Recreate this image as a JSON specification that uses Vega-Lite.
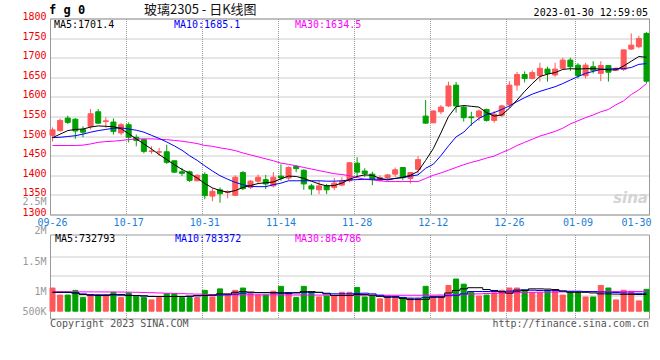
{
"$schema":"https://vega.github.io/schema/vega-lite/v6.json",
"autosize":{"type":"pad"},
"padding":{"left":21,"top":2.5,"right":0,"bottom":0},
"background":"white",
"spacing":20,
"bounds":"flush",
"config":{
 "view":{"stroke":"#999999","strokeWidth":1},
 "axis":{"domain":false,"ticks":false,"labelFont":"DejaVu Sans Mono","labelFontSize":10,"gridColor":"#999999","gridDash":[1,1],"gridWidth":1},
 "text":{"font":"DejaVu Sans Mono","fontSize":10}
},
"datasets":{"k":[
{"d":"09-26","o":1502,"h":1522,"l":1486,"c":1516,"v":1016000,"m5":1496,"m10":1496,"m30":1476,"vm5":833000,"vm10":820000,"vm30":852000},
{"d":"09-27","o":1514,"h":1545,"l":1511,"c":1540,"v":708000,"m5":1505,"m10":1497,"m30":1476,"vm5":833000,"vm10":820000,"vm30":851000},
{"d":"09-28","o":1546,"h":1552,"l":1531,"c":1535,"v":708000,"m5":1514,"m10":1499,"m30":1476,"vm5":833000,"vm10":820000,"vm30":850000},
{"d":"09-29","o":1543,"h":1546,"l":1493,"c":1513,"v":913000,"m5":1517,"m10":1501,"m30":1476,"vm5":800000,"vm10":800000,"vm30":849000},
{"d":"09-30","o":1517,"h":1525,"l":1497,"c":1510,"v":596000,"m5":1518,"m10":1505,"m30":1477,"vm5":730000,"vm10":760000,"vm30":848000},
{"d":"10-10","o":1525,"h":1569,"l":1517,"c":1557,"v":708000,"m5":1523,"m10":1510,"m30":1480,"vm5":700000,"vm10":730000,"vm30":847000},
{"d":"10-11","o":1562,"h":1569,"l":1531,"c":1533,"v":708000,"m5":1526,"m10":1514,"m30":1484,"vm5":690000,"vm10":720000,"vm30":846000},
{"d":"10-12","o":1537,"h":1548,"l":1521,"c":1539,"v":708000,"m5":1525,"m10":1517,"m30":1486,"vm5":690000,"vm10":719000,"vm30":845000},
{"d":"10-13","o":1536,"h":1545,"l":1504,"c":1512,"v":829000,"m5":1524,"m10":1520,"m30":1487,"vm5":730000,"vm10":710000,"vm30":843000},
{"d":"10-14","o":1508,"h":1534,"l":1502,"c":1529,"v":596000,"m5":1519,"m10":1521,"m30":1489,"vm5":730000,"vm10":700000,"vm30":840000},
{"d":"10-17","o":1529,"h":1535,"l":1484,"c":1497,"v":802000,"m5":1506,"m10":1518,"m30":1491,"vm5":700000,"vm10":690000,"vm30":836000},
{"d":"10-18","o":1497,"h":1504,"l":1474,"c":1489,"v":662000,"m5":1493,"m10":1515,"m30":1493,"vm5":690000,"vm10":689000,"vm30":830000},
{"d":"10-19","o":1491,"h":1493,"l":1456,"c":1461,"v":596000,"m5":1480,"m10":1510,"m30":1493,"vm5":670000,"vm10":670000,"vm30":822000},
{"d":"10-20","o":1461,"h":1474,"l":1455,"c":1462,"v":494000,"m5":1467,"m10":1502,"m30":1493,"vm5":645000,"vm10":650000,"vm30":812000},
{"d":"10-21","o":1459,"h":1470,"l":1450,"c":1460,"v":596000,"m5":1453,"m10":1494,"m30":1492,"vm5":645000,"vm10":645000,"vm30":800000},
{"d":"10-24","o":1460,"h":1478,"l":1429,"c":1433,"v":764000,"m5":1440,"m10":1485,"m30":1491,"vm5":645000,"vm10":645000,"vm30":790000},
{"d":"10-25","o":1437,"h":1438,"l":1406,"c":1408,"v":764000,"m5":1427,"m10":1475,"m30":1489,"vm5":645000,"vm10":645000,"vm30":780000},
{"d":"10-26","o":1409,"h":1419,"l":1398,"c":1405,"v":596000,"m5":1415,"m10":1464,"m30":1487,"vm5":645000,"vm10":645000,"vm30":770000},
{"d":"10-27","o":1409,"h":1412,"l":1383,"c":1387,"v":596000,"m5":1405,"m10":1450,"m30":1484,"vm5":660000,"vm10":650000,"vm30":760000},
{"d":"10-28","o":1386,"h":1402,"l":1385,"c":1400,"v":596000,"m5":1393,"m10":1438,"m30":1481,"vm5":690000,"vm10":670000,"vm30":750000},
{"d":"10-31","o":1402,"h":1408,"l":1339,"c":1348,"v":913000,"m5":1379,"m10":1424,"m30":1476,"vm5":690000,"vm10":689000,"vm30":740000},
{"d":"11-01","o":1347,"h":1367,"l":1334,"c":1359,"v":624000,"m5":1368,"m10":1411,"m30":1474,"vm5":700000,"vm10":700000,"vm30":730000},
{"d":"11-02","o":1363,"h":1369,"l":1330,"c":1353,"v":979000,"m5":1361,"m10":1399,"m30":1470,"vm5":760000,"vm10":710000,"vm30":722000},
{"d":"11-03","o":1356,"h":1362,"l":1341,"c":1358,"v":708000,"m5":1357,"m10":1390,"m30":1467,"vm5":760000,"vm10":719000,"vm30":720000},
{"d":"11-04","o":1349,"h":1400,"l":1347,"c":1395,"v":913000,"m5":1361,"m10":1382,"m30":1463,"vm5":830000,"vm10":750000,"vm30":718000},
{"d":"11-07","o":1407,"h":1411,"l":1362,"c":1366,"v":1016000,"m5":1369,"m10":1376,"m30":1457,"vm5":860000,"vm10":790000,"vm30":718000},
{"d":"11-08","o":1369,"h":1388,"l":1365,"c":1385,"v":764000,"m5":1374,"m10":1372,"m30":1452,"vm5":840000,"vm10":810000,"vm30":720000},
{"d":"11-09","o":1385,"h":1402,"l":1380,"c":1395,"v":708000,"m5":1379,"m10":1371,"m30":1447,"vm5":810000,"vm10":820000,"vm30":720000},
{"d":"11-10","o":1389,"h":1401,"l":1365,"c":1378,"v":708000,"m5":1381,"m10":1371,"m30":1442,"vm5":810000,"vm10":820000,"vm30":720000},
{"d":"11-11","o":1373,"h":1408,"l":1369,"c":1395,"v":876000,"m5":1383,"m10":1376,"m30":1437,"vm5":800000,"vm10":820000,"vm30":720000},
{"d":"11-14","o":1398,"h":1428,"l":1386,"c":1393,"v":1090000,"m5":1391,"m10":1380,"m30":1431,"vm5":790000,"vm10":820000,"vm30":718000},
{"d":"11-15","o":1393,"h":1423,"l":1388,"c":1420,"v":764000,"m5":1398,"m10":1386,"m30":1428,"vm5":780000,"vm10":820000,"vm30":716000},
{"d":"11-16","o":1423,"h":1426,"l":1408,"c":1417,"v":596000,"m5":1397,"m10":1386,"m30":1424,"vm5":800000,"vm10":820000,"vm30":714000},
{"d":"11-17","o":1413,"h":1415,"l":1363,"c":1378,"v":1090000,"m5":1392,"m10":1386,"m30":1420,"vm5":860000,"vm10":820000,"vm30":712000},
{"d":"11-18","o":1373,"h":1378,"l":1350,"c":1365,"v":829000,"m5":1385,"m10":1386,"m30":1416,"vm5":860000,"vm10":820000,"vm30":710000},
{"d":"11-21","o":1363,"h":1386,"l":1352,"c":1373,"v":624000,"m5":1378,"m10":1386,"m30":1412,"vm5":830000,"vm10":820000,"vm30":708000},
{"d":"11-22","o":1373,"h":1378,"l":1352,"c":1363,"v":662000,"m5":1373,"m10":1385,"m30":1408,"vm5":760000,"vm10":790000,"vm30":706000},
{"d":"11-23","o":1369,"h":1393,"l":1362,"c":1380,"v":662000,"m5":1374,"m10":1385,"m30":1404,"vm5":690000,"vm10":763000,"vm30":704000},
{"d":"11-24","o":1375,"h":1395,"l":1372,"c":1385,"v":829000,"m5":1380,"m10":1386,"m30":1402,"vm5":690000,"vm10":763000,"vm30":702000},
{"d":"11-25","o":1386,"h":1434,"l":1382,"c":1432,"v":829000,"m5":1390,"m10":1388,"m30":1399,"vm5":690000,"vm10":763000,"vm30":700000},
{"d":"11-28","o":1431,"h":1446,"l":1395,"c":1408,"v":1044000,"m5":1397,"m10":1389,"m30":1394,"vm5":730000,"vm10":780000,"vm30":700000},
{"d":"11-29","o":1411,"h":1418,"l":1396,"c":1404,"v":624000,"m5":1401,"m10":1390,"m30":1390,"vm5":730000,"vm10":790000,"vm30":700000},
{"d":"11-30","o":1403,"h":1409,"l":1375,"c":1390,"v":662000,"m5":1400,"m10":1390,"m30":1388,"vm5":700000,"vm10":760000,"vm30":700000},
{"d":"12-01","o":1387,"h":1400,"l":1384,"c":1394,"v":541000,"m5":1392,"m10":1390,"m30":1386,"vm5":650000,"vm10":700000,"vm30":700000},
{"d":"12-02","o":1394,"h":1403,"l":1390,"c":1401,"v":624000,"m5":1388,"m10":1390,"m30":1384,"vm5":610000,"vm10":650000,"vm30":700000},
{"d":"12-05","o":1403,"h":1420,"l":1396,"c":1414,"v":569000,"m5":1392,"m10":1392,"m30":1384,"vm5":610000,"vm10":645000,"vm30":700000},
{"d":"12-06","o":1420,"h":1421,"l":1387,"c":1394,"v":569000,"m5":1395,"m10":1394,"m30":1384,"vm5":560000,"vm10":600000,"vm30":700000},
{"d":"12-07","o":1392,"h":1407,"l":1379,"c":1407,"v":569000,"m5":1400,"m10":1398,"m30":1384,"vm5":510000,"vm10":570000,"vm30":700000},
{"d":"12-08","o":1415,"h":1449,"l":1403,"c":1440,"v":569000,"m5":1410,"m10":1401,"m30":1384,"vm5":510000,"vm10":570000,"vm30":700000},
{"d":"12-09","o":1551,"h":1592,"l":1532,"c":1533,"v":1090000,"m5":1438,"m10":1418,"m30":1392,"vm5":520000,"vm10":600000,"vm30":702000},
{"d":"12-12","o":1534,"h":1566,"l":1533,"c":1564,"v":622000,"m5":1468,"m10":1428,"m30":1400,"vm5":610000,"vm10":640000,"vm30":705000},
{"d":"12-13","o":1562,"h":1579,"l":1556,"c":1574,"v":622000,"m5":1508,"m10":1450,"m30":1406,"vm5":610000,"vm10":650000,"vm30":710000},
{"d":"12-14","o":1577,"h":1639,"l":1574,"c":1628,"v":1130000,"m5":1550,"m10":1475,"m30":1413,"vm5":800000,"vm10":680000,"vm30":720000},
{"d":"12-15","o":1630,"h":1638,"l":1560,"c":1577,"v":1412000,"m5":1575,"m10":1498,"m30":1420,"vm5":910000,"vm10":700000,"vm30":730000},
{"d":"12-16","o":1574,"h":1579,"l":1537,"c":1547,"v":1186000,"m5":1578,"m10":1510,"m30":1427,"vm5":980000,"vm10":760000,"vm30":740000},
{"d":"12-19","o":1549,"h":1562,"l":1526,"c":1547,"v":833000,"m5":1576,"m10":1530,"m30":1433,"vm5":1030000,"vm10":864000,"vm30":750000},
{"d":"12-20","o":1549,"h":1568,"l":1539,"c":1564,"v":664000,"m5":1574,"m10":1545,"m30":1438,"vm5":1030000,"vm10":864000,"vm30":760000},
{"d":"12-21","o":1568,"h":1570,"l":1537,"c":1540,"v":706000,"m5":1560,"m10":1555,"m30":1444,"vm5":950000,"vm10":864000,"vm30":775000},
{"d":"12-22","o":1540,"h":1564,"l":1534,"c":1556,"v":805000,"m5":1551,"m10":1560,"m30":1449,"vm5":910000,"vm10":864000,"vm30":785000},
{"d":"12-23","o":1553,"h":1580,"l":1548,"c":1577,"v":918000,"m5":1554,"m10":1568,"m30":1458,"vm5":850000,"vm10":864000,"vm30":795000},
{"d":"12-26","o":1580,"h":1640,"l":1570,"c":1630,"v":1017000,"m5":1571,"m10":1577,"m30":1466,"vm5":790000,"vm10":880000,"vm30":805000},
{"d":"12-27","o":1630,"h":1664,"l":1616,"c":1657,"v":1017000,"m5":1592,"m10":1588,"m30":1476,"vm5":880000,"vm10":930000,"vm30":815000},
{"d":"12-28","o":1657,"h":1665,"l":1637,"c":1647,"v":918000,"m5":1614,"m10":1598,"m30":1484,"vm5":910000,"vm10":939000,"vm30":822000},
{"d":"12-29","o":1647,"h":1668,"l":1645,"c":1662,"v":805000,"m5":1634,"m10":1607,"m30":1492,"vm5":980000,"vm10":920000,"vm30":828000},
{"d":"12-30","o":1654,"h":1687,"l":1639,"c":1673,"v":805000,"m5":1652,"m10":1614,"m30":1500,"vm5":980000,"vm10":908000,"vm30":833000},
{"d":"01-03","o":1671,"h":1677,"l":1639,"c":1660,"v":918000,"m5":1658,"m10":1620,"m30":1506,"vm5":970000,"vm10":908000,"vm30":838000},
{"d":"01-04","o":1656,"h":1687,"l":1651,"c":1671,"v":946000,"m5":1662,"m10":1626,"m30":1512,"vm5":950000,"vm10":908000,"vm30":842000},
{"d":"01-05","o":1673,"h":1700,"l":1671,"c":1694,"v":706000,"m5":1670,"m10":1634,"m30":1520,"vm5":880000,"vm10":890000,"vm30":846000},
{"d":"01-06","o":1694,"h":1700,"l":1666,"c":1677,"v":833000,"m5":1672,"m10":1643,"m30":1531,"vm5":830000,"vm10":877000,"vm30":850000},
{"d":"01-09","o":1681,"h":1686,"l":1647,"c":1654,"v":833000,"m5":1671,"m10":1652,"m30":1539,"vm5":830000,"vm10":877000,"vm30":852000},
{"d":"01-10","o":1654,"h":1687,"l":1647,"c":1681,"v":622000,"m5":1672,"m10":1660,"m30":1547,"vm5":830000,"vm10":864000,"vm30":854000},
{"d":"01-11","o":1677,"h":1691,"l":1660,"c":1668,"v":622000,"m5":1672,"m10":1665,"m30":1554,"vm5":800000,"vm10":860000,"vm30":856000},
{"d":"01-12","o":1660,"h":1691,"l":1640,"c":1680,"v":1130000,"m5":1671,"m10":1670,"m30":1562,"vm5":760000,"vm10":840000,"vm30":858000},
{"d":"01-13","o":1680,"h":1680,"l":1639,"c":1663,"v":1017000,"m5":1669,"m10":1671,"m30":1568,"vm5":760000,"vm10":833000,"vm30":860000},
{"d":"01-16","o":1668,"h":1675,"l":1666,"c":1673,"v":494000,"m5":1669,"m10":1672,"m30":1580,"vm5":750000,"vm10":820000,"vm30":861000},
{"d":"01-17","o":1670,"h":1720,"l":1666,"c":1720,"v":918000,"m5":1679,"m10":1672,"m30":1590,"vm5":740000,"vm10":800000,"vm30":862000},
{"d":"01-18","o":1722,"h":1762,"l":1720,"c":1732,"v":875000,"m5":1691,"m10":1675,"m30":1606,"vm5":735000,"vm10":790000,"vm30":863000},
{"d":"01-19","o":1728,"h":1756,"l":1724,"c":1749,"v":452000,"m5":1703,"m10":1683,"m30":1618,"vm5":733000,"vm10":785000,"vm30":864000},
{"d":"01-30","o":1762,"h":1765,"l":1634,"c":1640,"v":960000,"m5":1701,"m10":1685,"m30":1634,"vm5":733000,"vm10":783000,"vm30":865000}
]},
"vconcat":[
{
 "width":599,"height":196,
 "data":{"name":"k"},
 "resolve":{"axis":{"x":"independent","y":"independent"}},
 "layer":[
  {"mark":{"type":"rule","strokeWidth":1},
   "encoding":{
    "x":{"field":"d","type":"ordinal","sort":null,"title":null,
     "scale":{"domain":["09-26","09-27","09-28","09-29","09-30","10-10","10-11","10-12","10-13","10-14","10-17","10-18","10-19","10-20","10-21","10-24","10-25","10-26","10-27","10-28","10-31","11-01","11-02","11-03","11-04","11-07","11-08","11-09","11-10","11-11","11-14","11-15","11-16","11-17","11-18","11-21","11-22","11-23","11-24","11-25","11-28","11-29","11-30","12-01","12-02","12-05","12-06","12-07","12-08","12-09","12-12","12-13","12-14","12-15","12-16","12-19","12-20","12-21","12-22","12-23","12-26","12-27","12-28","12-29","12-30","01-03","01-04","01-05","01-06","01-09","01-10","01-11","01-12","01-13","01-16","01-17","01-18","01-19","01-30"],"paddingInner":0.34,"paddingOuter":0},
     "axis":{"values":["09-26","10-17","10-31","11-14","11-28","12-12","12-26","01-09","01-30"],"bandPosition":0,"grid":true,"labelAngle":0,"labelColor":"#1a80d6","labelPadding":3,
      "labelAlign":{"condition":{"test":"datum.value == '01-30'","value":"right"},"value":"center"},
      "labelOffset":{"condition":{"test":"datum.value == '01-30'","value":5},"value":0},
      "gridOpacity":{"condition":{"test":"datum.value == '01-30'","value":0},"value":1}}},
    "y":{"field":"l","type":"quantitative","title":null,
     "scale":{"domain":[1300,1800],"nice":false,"zero":false},
     "axis":{"values":[1300,1350,1400,1450,1500,1550,1600,1650,1700,1750,1800],"format":"d","labelColor":"#ee0000","labelPadding":4,"labelOffset":-2,"grid":true,"labelOverlap":false}},
    "y2":{"field":"h"},
    "color":{"condition":{"test":"datum.c >= datum.o","value":"#ff5858"},"value":"#00a000"}
   }},
  {"mark":{"type":"bar","strokeWidth":1},
   "encoding":{
    "x":{"field":"d","type":"ordinal","sort":null,"title":null,"axis":null},
    "y":{"field":"o","type":"quantitative","title":null,"axis":null},
    "y2":{"field":"c"},
    "color":{"condition":{"test":"datum.c >= datum.o","value":"#ff5858"},"value":"#00a000"},
    "stroke":{"condition":{"test":"datum.c >= datum.o","value":"#ff5858"},"value":"#00a000"}
   }},
  {"mark":{"type":"line","color":"#ff00ff","strokeWidth":1},
   "encoding":{"x":{"field":"d","type":"ordinal","sort":null,"title":null,"axis":null},"y":{"field":"m30","type":"quantitative","title":null,"axis":null}}},
  {"mark":{"type":"line","color":"#0000ff","strokeWidth":1},
   "encoding":{"x":{"field":"d","type":"ordinal","sort":null,"title":null,"axis":null},"y":{"field":"m10","type":"quantitative","title":null,"axis":null}}},
  {"mark":{"type":"line","color":"#000000","strokeWidth":1},
   "encoding":{"x":{"field":"d","type":"ordinal","sort":null,"title":null,"axis":null},"y":{"field":"m5","type":"quantitative","title":null,"axis":null}}},
  {"data":{"values":[{}]},
   "mark":{"type":"text","text":"f g 0","align":"left","baseline":"middle","dx":-1,"dy":-9,"fontWeight":"bold","fontSize":12,"color":"#000000"},
   "encoding":{"x":{"datum":"09-26","type":"ordinal","bandPosition":0,"axis":null},"y":{"datum":1800,"type":"quantitative","axis":null}}},
  {"data":{"values":[{}]},
   "mark":{"type":"text","text":"玻璃2305 - 日K线图","align":"center","baseline":"middle","dx":-2,"dy":-9,"font":"Noto Sans CJK SC","fontSize":13,"color":"#111111"},
   "encoding":{"x":{"datum":"10-31","type":"ordinal","bandPosition":0,"axis":null},"y":{"datum":1800,"type":"quantitative","axis":null}}},
  {"data":{"values":[{}]},
   "mark":{"type":"text","text":"2023-01-30 12:59:05","align":"right","baseline":"middle","dx":-1,"dy":-6,"fontSize":10,"color":"#000000"},
   "encoding":{"x":{"datum":"01-30","type":"ordinal","bandPosition":1,"axis":null},"y":{"datum":1800,"type":"quantitative","axis":null}}},
  {"data":{"values":[{}]},
   "mark":{"type":"text","text":"MA5:1701.4","align":"left","baseline":"middle","dx":4,"dy":6,"color":"#000000"},
   "encoding":{"x":{"datum":"09-26","type":"ordinal","bandPosition":0,"axis":null},"y":{"datum":1800,"type":"quantitative","axis":null}}},
  {"data":{"values":[{}]},
   "mark":{"type":"text","text":"MA10:1685.1","align":"left","baseline":"middle","dx":124,"dy":6,"color":"#0000ff"},
   "encoding":{"x":{"datum":"09-26","type":"ordinal","bandPosition":0,"axis":null},"y":{"datum":1800,"type":"quantitative","axis":null}}},
  {"data":{"values":[{}]},
   "mark":{"type":"text","text":"MA30:1634.5","align":"left","baseline":"middle","dx":245,"dy":6,"color":"#ff00ff"},
   "encoding":{"x":{"datum":"09-26","type":"ordinal","bandPosition":0,"axis":null},"y":{"datum":1800,"type":"quantitative","axis":null}}},
  {"data":{"values":[{}]},
   "mark":{"type":"text","text":"sina","align":"right","baseline":"middle","dx":-1,"dy":-17,"font":"DejaVu Sans","fontSize":15,"fontStyle":"italic","fontWeight":"bold","color":"#d4d4d4"},
   "encoding":{"x":{"datum":"01-30","type":"ordinal","bandPosition":1,"axis":null},"y":{"datum":1300,"type":"quantitative","axis":null}}}
 ]
},
{
 "width":599,"height":84,
 "data":{"name":"k"},
 "resolve":{"axis":{"x":"independent","y":"independent"}},
 "layer":[
  {"mark":{"type":"bar","strokeWidth":1},
   "encoding":{
    "x":{"field":"d","type":"ordinal","sort":null,"title":null,
     "scale":{"domain":["09-26","09-27","09-28","09-29","09-30","10-10","10-11","10-12","10-13","10-14","10-17","10-18","10-19","10-20","10-21","10-24","10-25","10-26","10-27","10-28","10-31","11-01","11-02","11-03","11-04","11-07","11-08","11-09","11-10","11-11","11-14","11-15","11-16","11-17","11-18","11-21","11-22","11-23","11-24","11-25","11-28","11-29","11-30","12-01","12-02","12-05","12-06","12-07","12-08","12-09","12-12","12-13","12-14","12-15","12-16","12-19","12-20","12-21","12-22","12-23","12-26","12-27","12-28","12-29","12-30","01-03","01-04","01-05","01-06","01-09","01-10","01-11","01-12","01-13","01-16","01-17","01-18","01-19","01-30"],"paddingInner":0.34,"paddingOuter":0},
     "axis":{"values":["09-26","10-17","10-31","11-14","11-28","12-12","12-26","01-09","01-30"],"bandPosition":0,"grid":true,"labels":false,
      "gridOpacity":{"condition":{"test":"datum.value == '01-30'","value":0},"value":1}}},
    "y":{"field":"v","type":"quantitative","title":null,
     "scale":{"domain":[-320000,3364000],"nice":false,"zero":false},
     "axis":{"values":[0,877000,2193000,1785000,3070000],"grid":false,"labelColor":"#999999","labelPadding":4,"labelOverlap":false,
      "labelExpr":"datum.value == 0 ? '500K' : datum.value == 877000 ? '1M' : datum.value == 2193000 ? '1.5M' : datum.value == 1785000 ? '2M' : '2.5M'",
      "labelOffset":{"condition":{"test":"datum.value == 1785000 || datum.value == 3070000","value":-40},"value":0}}},
    "y2":{"datum":0},
    "color":{"condition":{"test":"datum.c >= datum.o","value":"#ff5858"},"value":"#00a000"},
    "stroke":{"condition":{"test":"datum.c >= datum.o","value":"#ff5858"},"value":"#00a000"}
   }},
  {"mark":{"type":"line","color":"#ff00ff","strokeWidth":1,"interpolate":"step"},
   "encoding":{"x":{"field":"d","type":"ordinal","sort":null,"title":null,"axis":null},
    "y":{"field":"vm30","type":"quantitative","title":null,
     "axis":{"orient":"right","labels":false,"grid":true,"values":[689000,1548000,2408000]}}}},
  {"mark":{"type":"line","color":"#0000ff","strokeWidth":1,"interpolate":"step"},
   "encoding":{"x":{"field":"d","type":"ordinal","sort":null,"title":null,"axis":null},"y":{"field":"vm10","type":"quantitative","title":null,"axis":null}}},
  {"mark":{"type":"line","color":"#000000","strokeWidth":1,"interpolate":"step"},
   "encoding":{"x":{"field":"d","type":"ordinal","sort":null,"title":null,"axis":null},"y":{"field":"vm5","type":"quantitative","title":null,"axis":null}}},
  {"data":{"values":[{}]},
   "mark":{"type":"text","text":"MA5:732793","align":"left","baseline":"middle","dx":5,"dy":4,"color":"#000000"},
   "encoding":{"x":{"datum":"09-26","type":"ordinal","bandPosition":0,"axis":null},"y":{"datum":3364000,"type":"quantitative","axis":null}}},
  {"data":{"values":[{}]},
   "mark":{"type":"text","text":"MA10:783372","align":"left","baseline":"middle","dx":125,"dy":4,"color":"#0000ff"},
   "encoding":{"x":{"datum":"09-26","type":"ordinal","bandPosition":0,"axis":null},"y":{"datum":3364000,"type":"quantitative","axis":null}}},
  {"data":{"values":[{}]},
   "mark":{"type":"text","text":"MA30:864786","align":"left","baseline":"middle","dx":245,"dy":4,"color":"#ff00ff"},
   "encoding":{"x":{"datum":"09-26","type":"ordinal","bandPosition":0,"axis":null},"y":{"datum":3364000,"type":"quantitative","axis":null}}},
  {"data":{"values":[{}]},
   "mark":{"type":"text","text":"Copyright 2023 SINA.COM","align":"left","baseline":"middle","dx":0,"dy":5,"color":"#555555"},
   "encoding":{"x":{"datum":"09-26","type":"ordinal","bandPosition":0,"axis":null},"y":{"datum":-320000,"type":"quantitative","axis":null}}},
  {"data":{"values":[{}]},
   "mark":{"type":"text","text":"http://finance.sina.com.cn","align":"right","baseline":"middle","dx":0,"dy":5,"color":"#555555"},
   "encoding":{"x":{"datum":"01-30","type":"ordinal","bandPosition":1,"axis":null},"y":{"datum":-320000,"type":"quantitative","axis":null}}}
 ]
}
]
}
